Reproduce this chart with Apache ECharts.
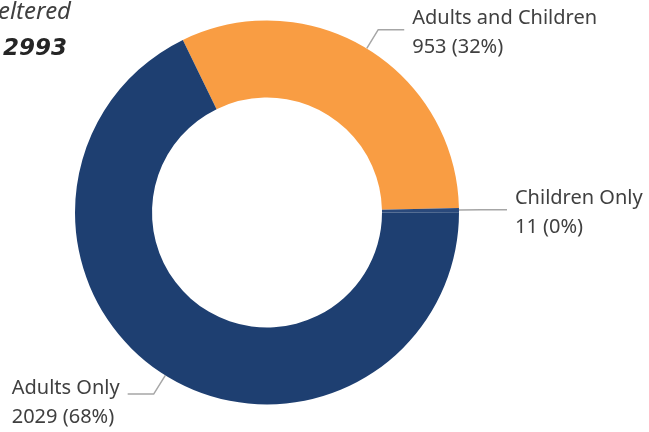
<!DOCTYPE html>
<html>
<head>
<meta charset="utf-8">
<script src="https://cdn.jsdelivr.net/npm/echarts@6/dist/echarts.min.js"></script>
<style>
  html, body { margin: 0; padding: 0; background: #fff; }
  #chart { width: 649px; height: 432px; }
</style>
</head>
<body>
<div id="chart"></div>
<script>
  // slice order follows the picture, clockwise from the top-left
  var categories = ['Adults and Children', 'Children Only', 'Adults Only'];
  var counts = [953, 11, 2029];
  var sliceColors = ['#F99D43', '#2A497B', '#1E3F71'];
  var titleText = 'Total Sheltered';
  var totalText = '2993';

  var FONT = '"Noto Sans", "Open Sans", sans-serif';
  var TEXT_COLOR = '#404040';

  var chart = echarts.init(document.getElementById('chart'));

  var pieData = categories.map(function (name, i) {
    var item = { name: name, value: counts[i], itemStyle: { color: sliceColors[i] } };
    // right edge label: give it a fixed box so it is not truncated
    if (i === 1) item.label = { width: 134, overflow: 'none' };
    // the bottom-left label sits a little lower under its leader line
    if (i === 2) item.label = { padding: [18, 0, 0, 0] };
    return item;
  });

  chart.setOption({
    backgroundColor: '#ffffff',
    animation: false,
    graphic: [
      {
        type: 'text', x: 71, y: 12,
        style: {
          text: titleText, align: 'right', verticalAlign: 'middle',
          font: 'italic 24px ' + FONT, fill: TEXT_COLOR
        }
      },
      {
        type: 'text', x: 67, y: 49,
        style: {
          text: totalText, align: 'right', verticalAlign: 'middle',
          font: 'italic bold 23px "DejaVu Sans", sans-serif', fill: '#252525'
        }
      }
    ],
    series: [{
      type: 'pie',
      center: [267, 212.5],
      radius: [115, 192],
      startAngle: 116,
      clockwise: true,
      percentPrecision: 0,
      silent: true,
      data: pieData,
      label: {
        show: true,
        formatter: '{l|{b}}\n{l|{c} ({d}%)}',
        distanceToLabelLine: 8,
        padding: [6, 0, 0, 0],
        rich: {
          l: {
            align: 'left',
            fontFamily: FONT,
            fontSize: 20,
            lineHeight: 29,
            color: TEXT_COLOR
          }
        }
      },
      labelLine: {
        show: true,
        length: 22,
        length2: 26,
        lineStyle: { color: '#A6A6A6', width: 1.5 }
      }
    }]
  });
</script>
</body>
</html>
